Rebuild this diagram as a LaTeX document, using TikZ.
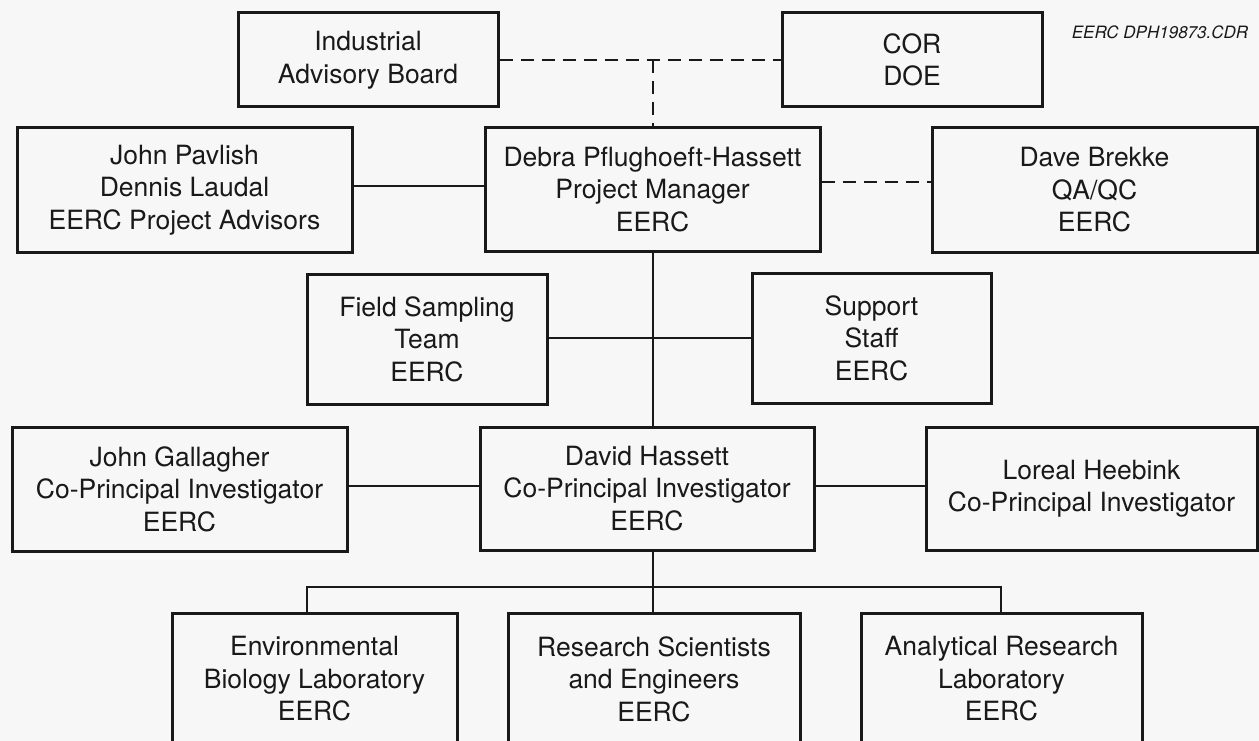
\documentclass[tikz,border=0pt]{standalone}
\usepackage{fontspec}
\setmainfont{TeX Gyre Heros}
\definecolor{paper}{RGB}{247,247,247}
\definecolor{ink}{RGB}{25,25,25}
\begin{document}
\begin{tikzpicture}[x=1pt,y=-1pt,
  orgbox/.style={draw=ink, line width=3pt, fill=paper, align=center, inner sep=0pt,
    font=\fontsize{26.5}{32.5}\selectfont, text=ink},
  link/.style={draw=ink, line width=2.2pt},
  dlink/.style={draw=ink, line width=2.4pt, dash pattern=on 13pt off 8pt}]
\useasboundingbox (0,0) rectangle (1259,741);
\fill[paper] (0,0) rectangle (1259,741);
\clip (0,0) rectangle (1259,741);

\node[orgbox, minimum width=260pt, minimum height=94pt] (iab) at (368,60) {Industrial\\Advisory Board};
\node[orgbox, minimum width=260pt, minimum height=94pt] (cor) at (912,60) {COR\\DOE};
\node[font=\fontsize{17}{20}\selectfont\itshape, text=ink, inner sep=0pt] (cdr) at (1160,32) {EERC DPH19873.CDR};

\node[orgbox, minimum width=335pt, minimum height=124pt] (pav) at (184.5,190) {John Pavlish\\Dennis Laudal\\EERC Project Advisors};
\node[orgbox, minimum width=335pt, minimum height=123pt] (deb) at (652.5,189.5) {Debra Pflughoeft-Hassett\\Project Manager\\EERC};
\node[orgbox, minimum width=325pt, minimum height=124pt] (bre) at (1094.5,190) {Dave Brekke\\QA/QC\\EERC};

\node[orgbox, minimum width=240pt, minimum height=130pt] (fst) at (427,339) {Field Sampling\\Team\\EERC};
\node[orgbox, minimum width=239pt, minimum height=130pt] (sup) at (871.5,338) {Support\\Staff\\EERC};

\node[orgbox, minimum width=335pt, minimum height=124pt] (gal) at (179.5,489) {John Gallagher\\Co-Principal Investigator\\EERC};
\node[orgbox, minimum width=334pt, minimum height=123pt] (dav) at (647,488.5) {David Hassett\\Co-Principal Investigator\\EERC};
\node[orgbox, minimum width=331pt, minimum height=123pt] (lor) at (1091.5,488.5) {Loreal Heebink\\Co-Principal Investigator};

\node[orgbox, minimum width=285pt, minimum height=132pt] (env) at (314.5,679) {Environmental\\Biology Laboratory\\EERC};
\node[orgbox, minimum width=292pt, minimum height=132pt] (res) at (654,679) {Research Scientists\\and Engineers\\EERC};
\node[orgbox, minimum width=281pt, minimum height=132pt] (ana) at (1001.5,679) {Analytical Research\\Laboratory\\EERC};

% dashed links at top
\coordinate (top) at (653,60);
\draw[dlink] (iab.east) -- (cor.west);
\draw[dlink] (top) -- (top |- deb.north);
\draw[dlink] (deb.east |- 0,182) -- (bre.west |- 0,182);

% solid links
\draw[link] (pav.east |- 0,186) -- (deb.west |- 0,186);
\coordinate (spine) at (653,338);
\draw[link] (spine |- deb.south) -- (spine |- dav.north);
\draw[link] (fst.east |- spine) -- (sup.west |- spine);
\draw[link] (gal.east |- 0,486) -- (dav.west |- 0,486);
\draw[link] (dav.east |- 0,486) -- (lor.west |- 0,486);

% branch to labs
\coordinate (bl) at (307,587);
\coordinate (br) at (1001,587);
\draw[link] (spine |- dav.south) -- (spine |- res.north);
\draw[link] (bl |- env.north) -- (bl) -- (br) -- (br |- ana.north);
\end{tikzpicture}
\end{document}
